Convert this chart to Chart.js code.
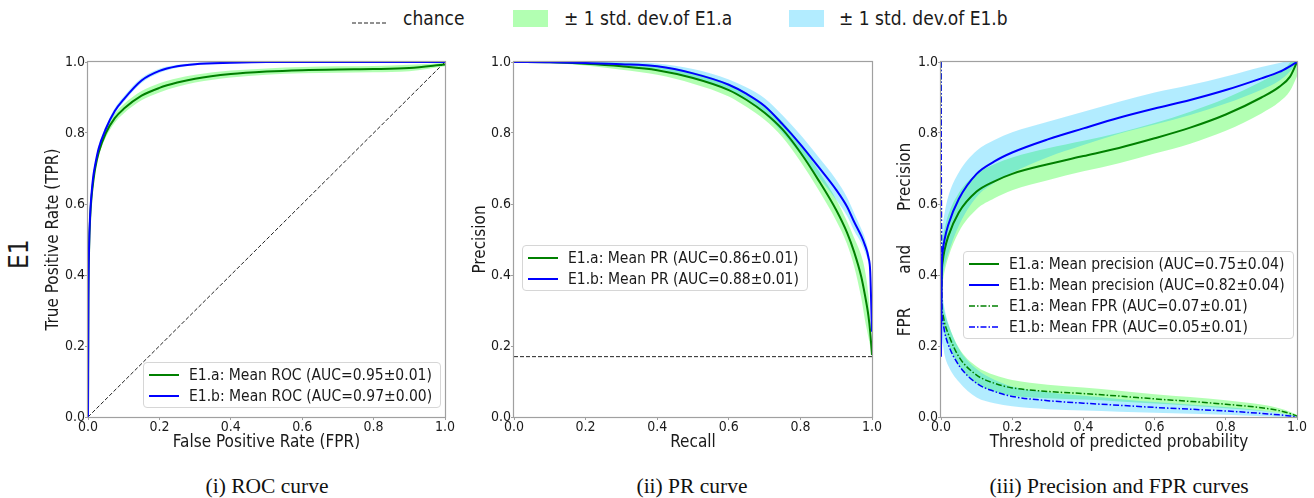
<!DOCTYPE html>
<html>
<head>
<meta charset="utf-8">
<script src="https://cdn.jsdelivr.net/npm/chart.js@4.4.1/dist/chart.umd.min.js"></script>
<style>
  body { margin: 0; background: #fff; font-family: "DejaVu Sans Condensed", "DejaVu Sans", sans-serif; font-stretch: condensed; color: #1a1a1a; }
  #page { position: relative; width: 1314px; height: 498px; overflow: hidden; }
  canvas { position: absolute; }
  .txt { position: absolute; white-space: nowrap; line-height: 20px; }
  .lg { position: absolute; background: rgba(255,255,255,0.8); border: 1px solid #d6d6d6; border-radius: 4px;
        padding: 1px 8px 1px 5px; font-size: 15.5px; color: #1a1a1a; }
  .lg .row { display: flex; align-items: center; height: 21px; white-space: nowrap; }
  .lg svg { margin-right: 10px; flex: none; }
  .cap { position: absolute; top: 474px; font-family: "Liberation Serif", serif; font-size: 21.5px; font-stretch: normal;
         transform: translateX(-50%); white-space: nowrap; color: #111; }
</style>
</head>
<body>
<div id="page">
  <div class="txt" style="left:7px;top:245px;font-size:26px;transform:rotate(-90deg);transform-origin:12px 12px;line-height:24px;">E1</div>
</div>
<script>
/* ---- data ---- */
const axisTicks = [0, 0.2, 0.4, 0.6, 0.8, 1.0];

// (i) ROC
const rocFpr  = [0, 0.001, 0.003, 0.006, 0.01, 0.015, 0.02, 0.03, 0.05, 0.075, 0.1, 0.15, 0.2, 0.25, 0.3, 0.4, 0.5, 0.6, 0.7, 0.8, 0.9, 1.0];
const rocTprA = [0, 0.32, 0.47, 0.56, 0.62, 0.665, 0.7, 0.745, 0.8, 0.842, 0.868, 0.905, 0.927, 0.942, 0.953, 0.966, 0.973, 0.977, 0.979, 0.98, 0.983, 0.993];
const rocTprB = [0, 0.33, 0.48, 0.57, 0.63, 0.68, 0.71, 0.757, 0.812, 0.862, 0.895, 0.948, 0.975, 0.988, 0.994, 0.998, 1, 1, 1, 1, 1, 1];
const rocSdA  = [0, 0.01, 0.01, 0.01, 0.01, 0.01, 0.01, 0.01, 0.012, 0.013, 0.013, 0.013, 0.013, 0.012, 0.011, 0.01, 0.009, 0.009, 0.009, 0.009, 0.009, 0.005];
const rocSdB  = [0, 0.005, 0.005, 0.006, 0.006, 0.007, 0.007, 0.008, 0.008, 0.008, 0.008, 0.007, 0.006, 0.004, 0.003, 0.002, 0.001, 0, 0, 0, 0, 0];
const rocChance = [0, 1];

// (ii) PR
const prRecall = [0, 0.1, 0.2, 0.3, 0.4, 0.5, 0.6, 0.65, 0.7, 0.75, 0.8, 0.85, 0.9, 0.93, 0.95, 0.97, 0.98, 0.99, 0.995, 1.0];
const prPrecA  = [1.0, 0.999, 0.995, 0.988, 0.977, 0.955, 0.921, 0.893, 0.857, 0.81, 0.745, 0.668, 0.583, 0.52, 0.465, 0.395, 0.345, 0.285, 0.24, 0.175];
const prPrecB  = [1.0, 0.999, 0.997, 0.994, 0.988, 0.968, 0.936, 0.91, 0.876, 0.825, 0.768, 0.705, 0.64, 0.593, 0.55, 0.51, 0.485, 0.45, 0.41, 0.24];
const prSdA    = [0, 0.002, 0.005, 0.01, 0.013, 0.016, 0.018, 0.02, 0.02, 0.022, 0.025, 0.027, 0.03, 0.032, 0.04, 0.06, 0.07, 0.06, 0.04, 0.01];
const prSdB    = [0, 0.001, 0.003, 0.006, 0.008, 0.012, 0.015, 0.018, 0.022, 0.025, 0.027, 0.028, 0.028, 0.026, 0.025, 0.02, 0.02, 0.015, 0.01, 0];
const prChance = 0.17;

// (iii) precision and FPR vs threshold
const thr      = [0, 0.002, 0.005, 0.01, 0.02, 0.05, 0.1, 0.15, 0.2, 0.3, 0.4, 0.5, 0.6, 0.7, 0.8, 0.9, 0.95, 0.98, 1.0];
const thrPrecA = [0.28, 0.4, 0.44, 0.47, 0.508, 0.576, 0.635, 0.664, 0.685, 0.712, 0.735, 0.758, 0.785, 0.815, 0.852, 0.9, 0.93, 0.958, 1.0];
const thrPrecB = [0.17, 0.42, 0.47, 0.5, 0.54, 0.614, 0.685, 0.72, 0.745, 0.782, 0.813, 0.843, 0.869, 0.893, 0.921, 0.954, 0.972, 0.988, 1.0];
const thrPrecSdA = [0.03, 0.05, 0.06, 0.06, 0.06, 0.055, 0.05, 0.048, 0.046, 0.045, 0.043, 0.043, 0.043, 0.045, 0.046, 0.045, 0.043, 0.04, 0.04];
const thrPrecSdB = [0.02, 0.06, 0.07, 0.075, 0.08, 0.075, 0.065, 0.06, 0.057, 0.05, 0.047, 0.045, 0.045, 0.042, 0.038, 0.032, 0.025, 0.015, 0];
const thrFprA  = [1.0, 0.33, 0.29, 0.265, 0.235, 0.17, 0.118, 0.095, 0.082, 0.072, 0.066, 0.059, 0.051, 0.044, 0.036, 0.026, 0.018, 0.01, 0.003];
const thrFprB  = [1.0, 0.32, 0.27, 0.24, 0.205, 0.146, 0.095, 0.072, 0.058, 0.046, 0.039, 0.033, 0.027, 0.022, 0.017, 0.01, 0.006, 0.003, 0];
const thrFprSdA = [0, 0.03, 0.03, 0.03, 0.028, 0.025, 0.024, 0.023, 0.022, 0.019, 0.017, 0.015, 0.013, 0.012, 0.011, 0.009, 0.007, 0.005, 0.003];
const thrFprSdB = [0, 0.06, 0.065, 0.065, 0.06, 0.047, 0.04, 0.033, 0.028, 0.024, 0.021, 0.018, 0.015, 0.013, 0.011, 0.008, 0.005, 0.003, 0.001];

const rocLabels = ['E1.a: Mean ROC (AUC=0.95\u00b10.01)', 'E1.b: Mean ROC (AUC=0.97\u00b10.00)'];
const prLabels  = ['E1.a: Mean PR (AUC=0.86\u00b10.01)', 'E1.b: Mean PR (AUC=0.88\u00b10.01)'];
const thrLabels = ['E1.a: Mean precision (AUC=0.75\u00b10.04)', 'E1.b: Mean precision (AUC=0.82\u00b10.04)',
                   'E1.a: Mean FPR (AUC=0.07\u00b10.01)', 'E1.b: Mean FPR (AUC=0.05\u00b10.01)'];
const topLabels = ['chance', '\u00b1 1 std. dev.of E1.a', '\u00b1 1 std. dev.of E1.b'];
const captions  = ['(i) ROC curve', '(ii) PR curve', '(iii) Precision and FPR curves'];

/* ---- styles ---- */
const GREEN = '#008000', BLUE = '#0000ff';
const GREEN_BAND = 'rgba(0,255,0,0.3)', BLUE_BAND = 'rgba(0,191,255,0.3)';
const DASH_DOT = [6, 2, 1.5, 2];
const FONT = '"DejaVu Sans Condensed", "DejaVu Sans", sans-serif';
const page = document.getElementById('page');

const pts = (xs, ys) => xs.map((x, i) => ({ x, y: ys[i] }));
const shift = (ys, sd, k) => ys.map((y, i) => y + k * sd[i]);

// lower order = drawn later (on top): blue lines over green, bands underneath
function line(xs, ys, color, order, dash, width) {
  return { data: pts(xs, ys), borderColor: color, borderWidth: width || 2, borderDash: dash || [],
           pointRadius: 0, fill: false, cubicInterpolationMode: 'monotone', order };
}
function band(xs, ys, sd, color, order) {
  const base = { pointRadius: 0, borderColor: 'transparent', borderWidth: 1, cubicInterpolationMode: 'monotone', order };
  return [
    Object.assign({ data: pts(xs, shift(ys, sd, 1)), fill: '+1', backgroundColor: color }, base),
    Object.assign({ data: pts(xs, shift(ys, sd, -1)), fill: false }, base),
  ];
}

const frame = {
  id: 'frame',
  afterDatasetsDraw(chart) {
    const a = chart.chartArea, c = chart.ctx;
    c.save(); c.strokeStyle = '#a0a0a0'; c.lineWidth = 1.2;
    c.strokeRect(a.left - 0.5, a.top - 0.5, a.right - a.left + 1, a.bottom - a.top + 1);
    c.restore();
  }
};

function axis(title, fitSize, horizontal) {
  return {
    type: 'linear', min: 0, max: 1,
    afterBuildTicks: s => { s.ticks = axisTicks.map(v => ({ value: v })); },
    afterFit: s => { if (horizontal) s.height = fitSize; else s.width = fitSize; },
    ticks: { color: '#1a1a1a', font: { family: FONT, size: 14 }, padding: horizontal ? -1 : 0, maxRotation: 0, autoSkip: false,
             callback: v => v.toFixed(1) },
    grid: { drawOnChartArea: false, drawTicks: true, tickLength: 3, color: '#a0a0a0' },
    border: { display: false },
    title: { display: true, text: title, color: '#1a1a1a', font: { family: FONT, size: 17 }, padding: { top: 4, bottom: 4 } },
  };
}

function makeChart(p) {
  const padTop = 10, padRight = 14, xH = 40;
  const cv = document.createElement('canvas');
  const left = p.L - p.yW, top = p.T - padTop;
  cv.width = p.R + padRight - left; cv.height = p.B + xH - top;
  cv.style.left = left + 'px'; cv.style.top = top + 'px';
  page.appendChild(cv);
  new Chart(cv, {
    type: 'line',
    data: { datasets: p.datasets },
    options: {
      responsive: false, animation: false, events: [], devicePixelRatio: 1,
      layout: { padding: { top: padTop, right: padRight, left: 0, bottom: 0 } },
      plugins: { legend: { display: false }, tooltip: { enabled: false } },
      scales: { x: axis(p.xTitle, xH, true), y: axis(p.yTitle, p.yW, false) },
    },
    plugins: [frame],
  });
}

function sampleSvg(color, dash, width) {
  return `<svg width="30" height="10"><line x1="0" y1="5" x2="30" y2="5" stroke="${color}" stroke-width="${width}"` +
         (dash ? ` stroke-dasharray="${dash.join(',')}"` : '') + `/></svg>`;
}
function makeLegend(left, top, labels, styles) {
  const d = document.createElement('div');
  d.className = 'lg'; d.style.left = left + 'px'; d.style.top = top + 'px';
  d.innerHTML = labels.map((t, i) => `<div class="row">${sampleSvg(...styles[i])}<span>${t}</span></div>`).join('');
  page.appendChild(d);
}

/* ---- panels ---- */
makeChart({
  L: 88, T: 62, R: 445, B: 417, yW: 49,
  xTitle: 'False Positive Rate (FPR)', yTitle: 'True Positive Rate (TPR)',
  datasets: [
    ...band(rocFpr, rocTprA, rocSdA, GREEN_BAND, 4),
    ...band(rocFpr, rocTprB, rocSdB, BLUE_BAND, 3),
    line(rocFpr, rocTprA, GREEN, 1),
    line(rocFpr, rocTprB, BLUE, 0),
    line(rocChance, rocChance, '#222', 2, [4, 2], 1),
  ],
});
makeChart({
  L: 514, T: 62, R: 872, B: 417, yW: 48,
  xTitle: 'Recall', yTitle: 'Precision',
  datasets: [
    ...band(prRecall, prPrecA, prSdA, GREEN_BAND, 4),
    ...band(prRecall, prPrecB, prSdB, BLUE_BAND, 3),
    line(prRecall, prPrecA, GREEN, 1),
    line(prRecall, prPrecB, BLUE, 0),
    line([0, 1], [prChance, prChance], '#222', 2, [4, 2], 1),
  ],
});
makeChart({
  L: 941, T: 62, R: 1297, B: 417, yW: 50,
  xTitle: 'Threshold of predicted probability', yTitle: 'FPR       and       Precision',
  datasets: [
    ...band(thr, thrPrecA, thrPrecSdA, GREEN_BAND, 4),
    ...band(thr, thrFprA, thrFprSdA, GREEN_BAND, 4),
    ...band(thr, thrPrecB, thrPrecSdB, BLUE_BAND, 3),
    ...band(thr, thrFprB, thrFprSdB, BLUE_BAND, 3),
    line(thr, thrPrecA, GREEN, 2),
    line(thr, thrPrecB, BLUE, 1),
    line(thr, thrFprA, GREEN, 1, DASH_DOT, 1.5),
    line(thr, thrFprB, BLUE, 0, DASH_DOT, 1.5),
  ],
});

makeLegend(143, 362, rocLabels, [[GREEN, null, 2], [BLUE, null, 2]]);
makeLegend(522, 245, prLabels, [[GREEN, null, 2], [BLUE, null, 2]]);
makeLegend(963, 251, thrLabels, [[GREEN, null, 2], [BLUE, null, 2], [GREEN, DASH_DOT, 1.5], [BLUE, DASH_DOT, 1.5]]);

/* ---- shared legend on top ---- */
function addTxt(text, left, top, css) {
  const d = document.createElement('div');
  d.className = 'txt'; d.textContent = text;
  d.style.left = left + 'px'; d.style.top = top + 'px';
  d.style.cssText += css || '';
  page.appendChild(d);
}
const dashSample = document.createElement('div');
dashSample.className = 'txt';
dashSample.style.cssText += 'left:352px;top:13px;';
dashSample.innerHTML = '<svg width="36" height="10"><line x1="0" y1="5" x2="36" y2="5" stroke="#222" stroke-width="1" stroke-dasharray="4,2"/></svg>';
page.appendChild(dashSample);
addTxt(topLabels[0], 403, 6, 'font-size:19px;line-height:24px;');
addTxt('', 513, 10, `width:35px;height:17px;background:${GREEN_BAND};`);
addTxt(topLabels[1], 564, 6, 'font-size:19px;line-height:24px;');
addTxt('', 789, 10, `width:35px;height:17px;background:${BLUE_BAND};`);
addTxt(topLabels[2], 839, 6, 'font-size:19px;line-height:24px;');

/* ---- captions ---- */
[267, 692, 1119].forEach((cx, i) => {
  const d = document.createElement('div');
  d.className = 'cap'; d.style.left = cx + 'px'; d.textContent = captions[i];
  page.appendChild(d);
});
</script>
</body>
</html>
